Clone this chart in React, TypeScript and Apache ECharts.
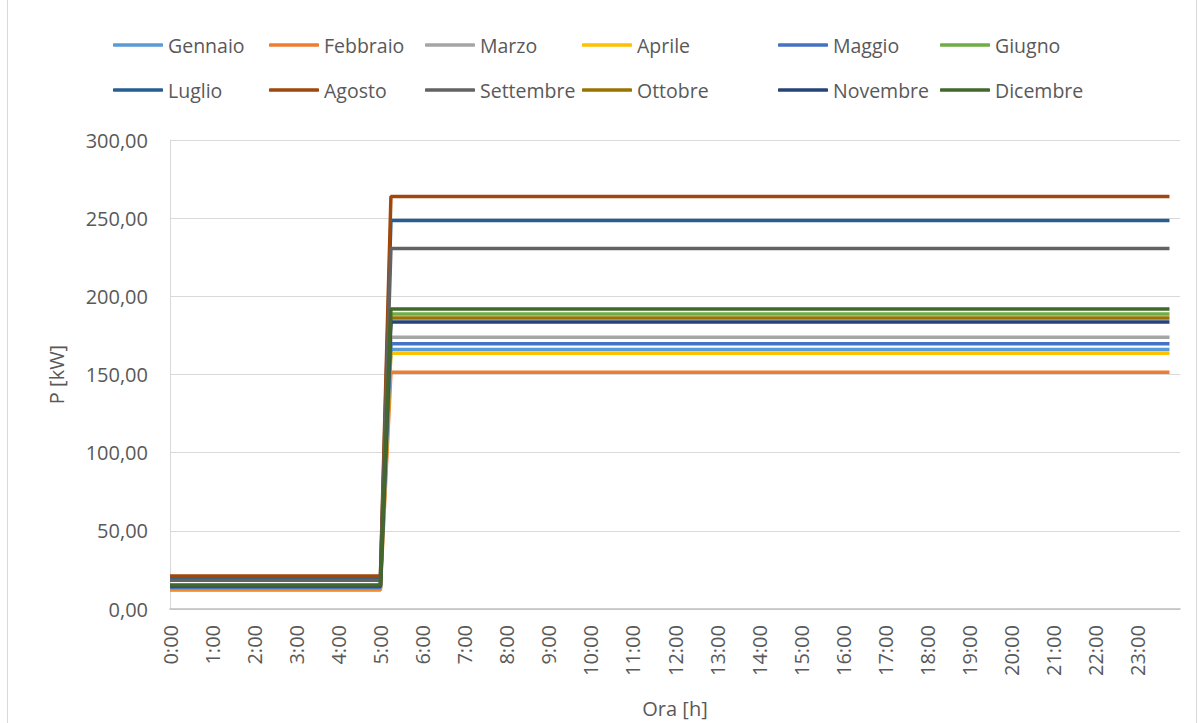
import React, { useEffect, useRef } from "react";
import * as echarts from "echarts";

const months = [
  "Gennaio", "Febbraio", "Marzo", "Aprile", "Maggio", "Giugno",
  "Luglio", "Agosto", "Settembre", "Ottobre", "Novembre", "Dicembre",
];
const colors = [
  "#5B9BD5", "#ED7D31", "#A5A5A5", "#FFC000", "#4472C4", "#70AD47",
  "#255E91", "#9E480E", "#636363", "#997300", "#264478", "#43682B",
];
// night (0:00-5:00) and day (5:15-23:45) power, kW
const nightValues = [13.3, 12.1, 13.9, 13.1, 13.6, 15.1, 19.9, 21.1, 18.4, 14.9, 14.7, 15.4];
const dayValues = [166.0, 151.5, 173.9, 163.6, 169.6, 188.7, 248.5, 263.8, 230.6, 186.2, 183.6, 191.9];
// time (h) of the points of each profile
const profileTimes = [0, 5, 5.25, 23.75];
const hourLabels = [
  "0:00", "1:00", "2:00", "3:00", "4:00", "5:00", "6:00", "7:00", "8:00", "9:00",
  "10:00", "11:00", "12:00", "13:00", "14:00", "15:00", "16:00", "17:00", "18:00",
  "19:00", "20:00", "21:00", "22:00", "23:00",
];
const yTicks = [0, 50, 100, 150, 200, 250, 300];

const FONT = "'Open Sans', sans-serif";
const TXT = "#595959";

export default function App() {
  const ref = useRef<HTMLDivElement>(null);
  useEffect(() => {
    if (!ref.current) return;
    const chart = echarts.init(ref.current, undefined, { renderer: "svg" });
    const series = months.map((m, i) => ({
      name: m,
      type: "line",
      showSymbol: false,
      symbol: "none",
      color: colors[i],
      lineStyle: { width: 3.5, color: colors[i] },
      data: profileTimes.map((t, k) => [t, k < 2 ? nightValues[i] : dayValues[i]]),
    }));
    const legendX = [113, 269, 425, 582, 778, 940];
    const legends = legendX.map((x, c) => ({
      left: x,
      top: 35,
      padding: 0,
      orient: "vertical",
      itemGap: 25,
      itemWidth: 50,
      itemHeight: 3.5,
      icon: "roundRect",
      textStyle: { fontFamily: FONT, fontSize: 19.5, color: TXT },
      data: [months[c], months[c + 6]],
    }));
    chart.setOption({
      animation: false,
      textStyle: { fontFamily: FONT },
      legend: legends,
      graphic: [
        {
          type: "rect",
          shape: { x: 7.5, y: -5, width: 1189, height: 740 },
          style: { fill: "none", stroke: "#D9D9D9", lineWidth: 1 },
          silent: true,
        },
      ],
      grid: { left: 170, top: 140, right: 24, bottom: 113, containLabel: false },
      xAxis: {
        type: "value",
        min: 0,
        max: 24,
        interval: 1,
        name: "Ora [h]",
        nameLocation: "middle",
        nameGap: 89,
        nameTextStyle: { fontFamily: FONT, fontSize: 20, color: TXT },
        axisLine: { show: true, lineStyle: { color: "#BFBFBF", width: 1.5 } },
        axisTick: { show: false },
        splitLine: { show: false },
        axisLabel: {
          rotate: 90,
          margin: 16,
          fontFamily: FONT,
          fontSize: 20,
          color: TXT,
          showMaxLabel: false,
          formatter: (v: number) => hourLabels[v] ?? "",
        },
      },
      yAxis: {
        type: "value",
        min: yTicks[0],
        max: yTicks[yTicks.length - 1],
        interval: 50,
        name: "P [kW]",
        nameLocation: "middle",
        nameGap: 104,
        nameTextStyle: { fontFamily: FONT, fontSize: 20, color: TXT },
        axisLine: { show: true, lineStyle: { color: "#D9D9D9", width: 1 } },
        axisTick: { show: false },
        splitLine: { show: true, lineStyle: { color: "#D9D9D9", width: 1 } },
        axisLabel: {
          margin: 22,
          fontFamily: FONT,
          fontSize: 20,
          color: TXT,
          formatter: (v: number) => v.toFixed(2).replace(".", ","),
        },
      },
      series,
    });
    return () => chart.dispose();
  }, []);
  return (
    <div
      ref={ref}
      style={{ position: "fixed", left: 0, top: 0, width: 1204, height: 723, background: "#fff" }}
    />
  );
}
